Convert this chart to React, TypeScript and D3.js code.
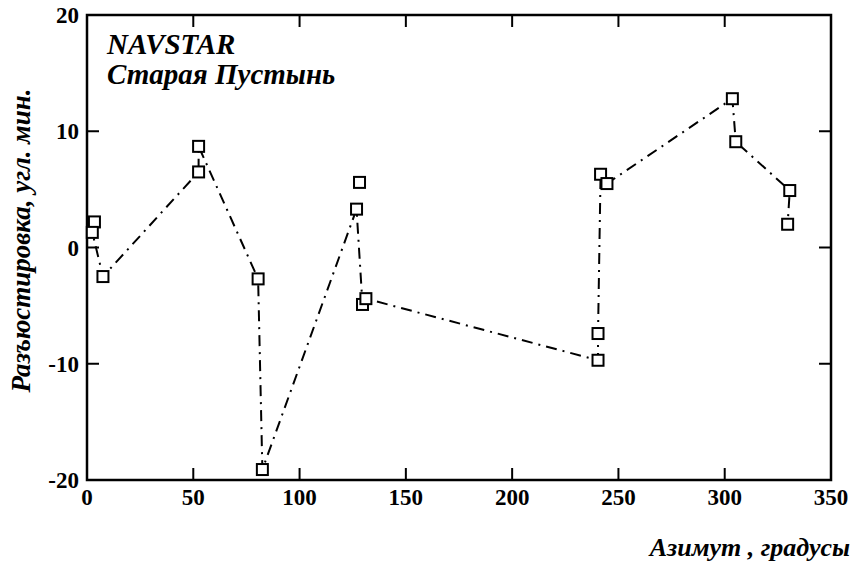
import React from "react";
import * as d3 from "d3";

// Azimuth (degrees) and misalignment (arc minutes) of each measurement
const azimuth = [3.5, 2.5, 7.5, 52.5, 52.5, 80.5, 82.5, 126.8, 128.2, 129.6, 131.2, 240.4, 240.4, 241.6, 244.6, 303.6, 305.2, 330.6, 329.6];
const deviation = [2.2, 1.3, -2.5, 6.5, 8.7, -2.7, -19.1, 3.3, 5.6, -4.9, -4.4, -9.7, -7.4, 6.3, 5.5, 12.8, 9.1, 4.9, 2.0];
// Order in which the measurements are joined by the broken line
const lineOrder = [0, 1, 2, 3, 4, 5, 6, 7, 9, 10, 11, 12, 13, 14, 15, 16, 17, 18];

const xTicks = [0, 50, 100, 150, 200, 250, 300, 350];
const yTicks = [-20, -10, 0, 10, 20];

const titleLines = ["NAVSTAR", "Старая Пустынь"];
const xTitle = "Азимут , градусы";
const yTitle = "Разъюстировка, угл. мин.";

const W = 858;
const H = 563;
const FONT = "Times New Roman";

export default function App() {
  const x = d3.scaleLinear().domain([0, 350]).range([87, 831]);
  const y = d3.scaleLinear().domain([-20, 20]).range([480, 15]);
  const [x0, x1] = x.range();
  const [y0, y1] = y.range();
  const tickLen = 12;

  const pts = lineOrder.map((i) => [azimuth[i], deviation[i]] as [number, number]);
  const line = d3
    .line<[number, number]>()
    .x((d) => x(d[0]))
    .y((d) => y(d[1]));

  const innerX = xTicks.filter((t) => t > 0 && t < 350);
  const innerY = yTicks.filter((t) => t > -20 && t < 20);
  const ms = 11;

  return (
    <svg width={W} height={H} style={{ position: "fixed", left: 0, top: 0 }}>
      <rect width={W} height={H} fill="#fff" />
      {/* ticks, all pointing inward */}
      <g stroke="#000" strokeWidth={2}>
        {innerX.map((t) => (
          <g key={"xt" + t}>
            <line x1={x(t)} x2={x(t)} y1={y0} y2={y0 - tickLen} />
            <line x1={x(t)} x2={x(t)} y1={y1} y2={y1 + tickLen} />
          </g>
        ))}
        {innerY.map((t) => (
          <g key={"yt" + t}>
            <line x1={x0} x2={x0 + tickLen} y1={y(t)} y2={y(t)} />
            <line x1={x1} x2={x1 - tickLen} y1={y(t)} y2={y(t)} />
          </g>
        ))}
      </g>
      {/* frame */}
      <rect x={x0} y={y1} width={x1 - x0} height={y0 - y1} fill="none" stroke="#000" strokeWidth={2.5} />
      {/* tick labels */}
      {xTicks.map((t) => (
        <text key={"xl" + t} x={x(t)} y={y0 + 25} textAnchor="middle"
          style={{ fontFamily: FONT, fontSize: 23, fontWeight: 700 }}>
          {t}
        </text>
      ))}
      {yTicks.map((t) => (
        <text key={"yl" + t} x={x0 - 8} y={y(t) + 8} textAnchor="end"
          style={{ fontFamily: FONT, fontSize: 23, fontWeight: 700 }}>
          {t < 0 ? "-" + Math.abs(t) : t}
        </text>
      ))}
      {/* data line */}
      <path d={line(pts) ?? ""} fill="none" stroke="#000" strokeWidth={2} strokeDasharray="11,6,2,6" />
      {/* markers */}
      <g fill="#fff" stroke="#000" strokeWidth={2}>
        {azimuth.map((a, i) => (
          <rect key={"m" + i} x={x(a) - ms / 2} y={y(deviation[i]) - ms / 2} width={ms} height={ms} />
        ))}
      </g>
      {/* caption */}
      {titleLines.map((s, i) => (
        <text key={"t" + i} x={107} y={54 + i * 30}
          style={{ fontFamily: FONT, fontSize: 29, fontWeight: 700, fontStyle: "italic" }}>
          {s}
        </text>
      ))}
      {/* axis titles */}
      <text x={850} y={556} textAnchor="end"
        style={{ fontFamily: FONT, fontSize: 26, fontWeight: 700, fontStyle: "italic" }}>
        {xTitle}
      </text>
      <text transform={`translate(30, ${(y0 + y1) / 2 - 7}) rotate(-90)`} textAnchor="middle"
        style={{ fontFamily: FONT, fontSize: 27, fontWeight: 700, fontStyle: "italic" }}>
        {yTitle}
      </text>
    </svg>
  );
}
